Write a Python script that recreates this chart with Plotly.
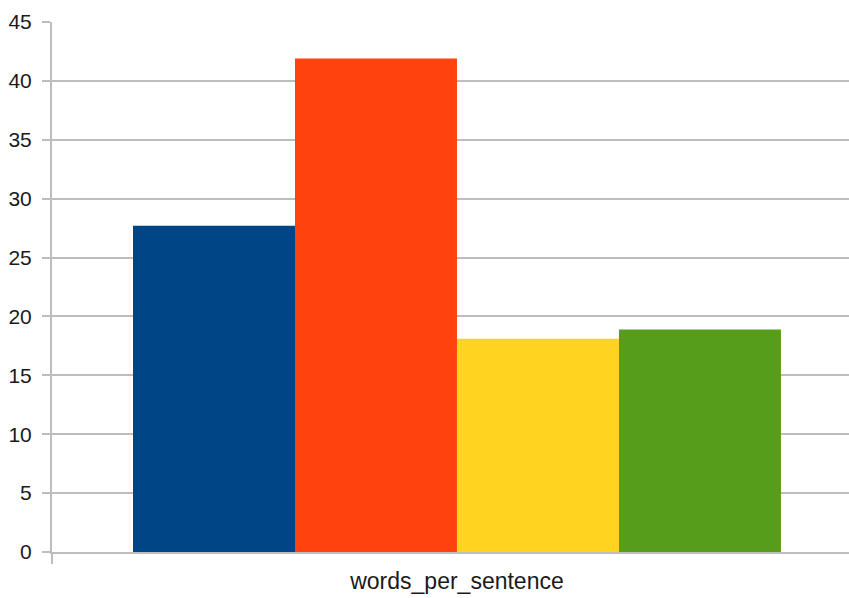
import plotly.graph_objects as go

# Chart data
category = ["words_per_sentence"]
series_names = ["Series 1", "Series 2", "Series 3", "Series 4"]
series_values = [27.7, 41.9, 18.1, 18.9]
series_colors = ["#004586", "#ff420e", "#ffd320", "#579d1c"]
y_ticks = [0, 5, 10, 15, 20, 25, 30, 35, 40, 45]

grid = "#bdbdbd"
text_color = "#1a1a1a"

fig = go.Figure()
for name, val, col in zip(series_names, series_values, series_colors):
    fig.add_trace(go.Bar(
        x=category, y=[val], name=name,
        marker=dict(color=col, line=dict(width=0)),
    ))

fig.update_layout(
    width=849, height=598,
    margin=dict(l=52, r=0, t=22, b=46),
    paper_bgcolor="white", plot_bgcolor="white",
    barmode="group", bargap=0.2, bargroupgap=0,
    showlegend=False,
    font=dict(family="Liberation Sans, Arial, sans-serif", size=21, color=text_color),
)
fig.update_xaxes(
    range=[-0.5, 0.484],
    showgrid=False, zeroline=False,
    showline=True, linecolor=grid, linewidth=2,
    ticks="outside", tickson="boundaries", ticklen=10, tickcolor=grid, tickwidth=2,
    tickfont=dict(size=23, color=text_color),
    ticklabelstandoff=7,
)
fig.update_yaxes(
    range=[0, 45], tickvals=y_ticks,
    showgrid=True, gridcolor=grid, gridwidth=2,
    zeroline=False,
    showline=True, linecolor=grid, linewidth=2,
    ticks="outside", ticklen=8, tickcolor=grid, tickwidth=2,
    tickfont=dict(size=21, color=text_color),
    ticklabelstandoff=6,
)

fig.write_html("out.html")
